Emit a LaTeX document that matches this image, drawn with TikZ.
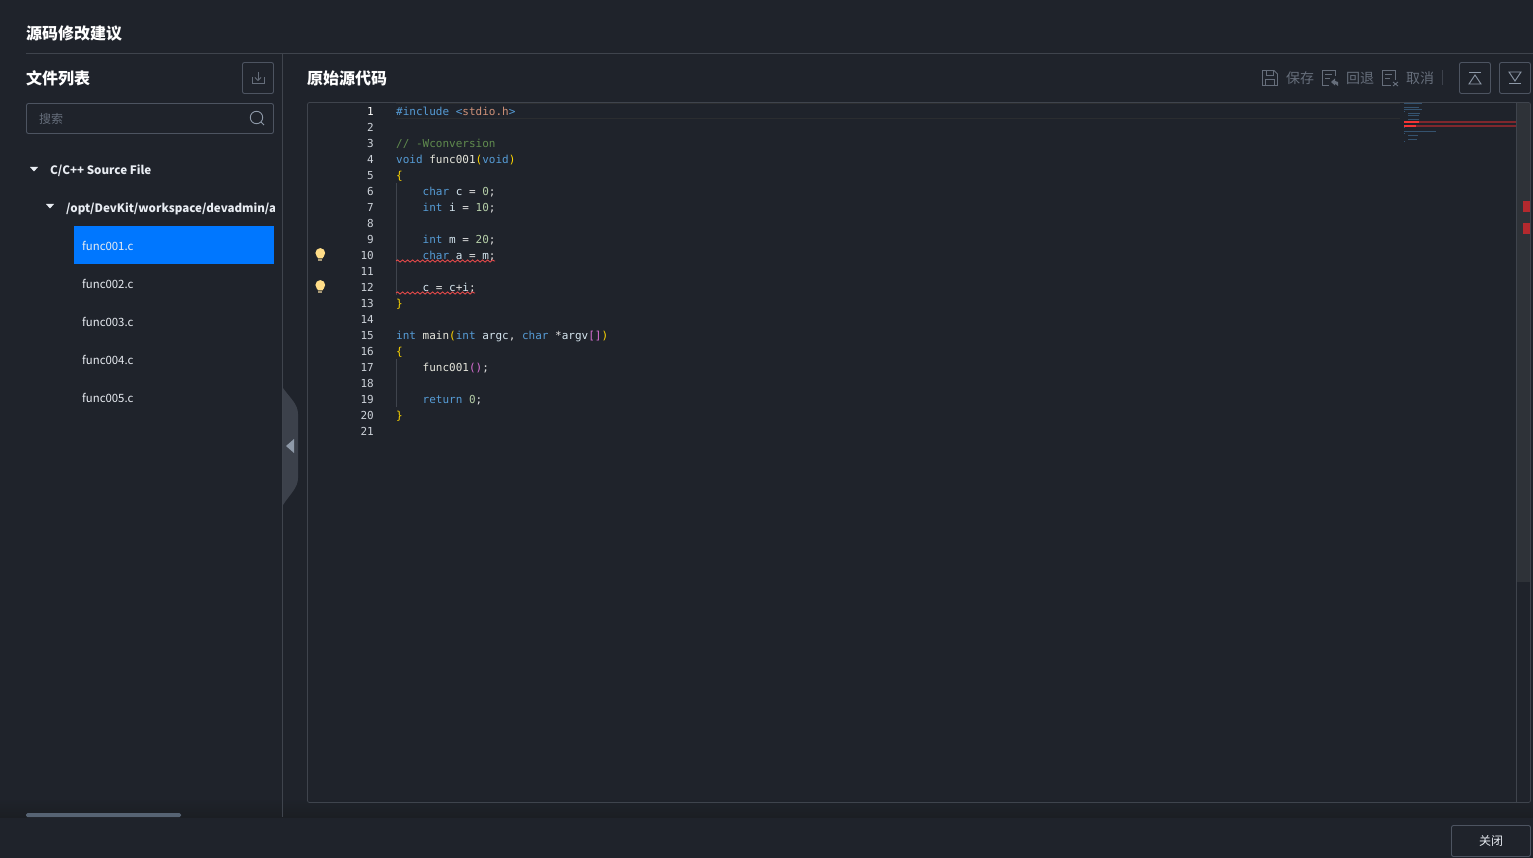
\documentclass[tikz,border=0pt]{standalone}
\usepackage{xcolor}
\usepackage{fontspec}
\usepackage{tikz}
\usetikzlibrary{decorations.pathmorphing}
\setmainfont{Noto Sans CJK SC}
\setmonofont{DejaVu Sans Mono}
\definecolor{pagebg}{HTML}{1F232B}
\definecolor{shadowbg}{HTML}{1B1E23}
\definecolor{rule}{HTML}{3F444D}
\definecolor{boxline}{HTML}{4D5461}
\definecolor{primary}{HTML}{0077FF}
\definecolor{maintext}{HTML}{E8ECF2}
\definecolor{dimtext}{HTML}{666E7B}
\definecolor{handle}{HTML}{3C414B}
\definecolor{handlemark}{HTML}{8E99A8}
\definecolor{thumb}{HTML}{566373}
\definecolor{scrollbg}{HTML}{2E3238}
\definecolor{curline}{HTML}{2B2D30}
\definecolor{kwblue}{HTML}{569CD6}
\definecolor{cmtgreen}{HTML}{608B4E}
\definecolor{numgreen}{HTML}{B5CEA8}
\definecolor{strorange}{HTML}{CE9178}
\definecolor{brackety}{HTML}{FFD700}
\definecolor{bracketm}{HTML}{DA70D6}
\definecolor{plaincode}{HTML}{E0E0E0}
\definecolor{varblue}{HTML}{D6E6F0}
\definecolor{fnyellow}{HTML}{E6E6DC}
\definecolor{linenum}{HTML}{CDD2D9}
\definecolor{errred}{HTML}{F14C4C}
\definecolor{markred}{HTML}{B3292E}
\definecolor{bulbcol}{HTML}{FFDD88}
\definecolor{bulbbase}{HTML}{A89A78}
\newcommand{\kw}[1]{\textcolor{kwblue}{#1}}
\newcommand{\nm}[1]{\textcolor{numgreen}{#1}}
\newcommand{\vr}[1]{\textcolor{varblue}{#1}}
\newcommand{\fn}[1]{\textcolor{fnyellow}{#1}}
\newcommand{\by}[1]{\textcolor{brackety}{#1}}
\newcommand{\bm}[1]{\textcolor{bracketm}{#1}}
\newcommand{\ind}{\hphantom{0000}}
\newcommand{\uifont}[1]{\fontsize{#1}{#1}\selectfont}
\tikzset{
  rulesep/.style={draw=rule, line width=0.8pt},
  uibox/.style={draw=boxline, rounded corners=2pt, line width=0.9pt},
  title/.style={text=white, font=\uifont{16}\bfseries, anchor=west, inner sep=0pt},
  filename/.style={text=maintext, font=\uifont{11.4}, anchor=west, inner sep=0pt},
  treehead/.style={text=maintext, font=\uifont{11.6}\bfseries, anchor=west, inner sep=0pt},
  toolicon/.style={draw=dimtext, line width=0.9pt},
  tooltext/.style={text=dimtext, font=\uifont{14}, anchor=west, inner sep=0pt},
  codetext/.style={text=plaincode, font=\ttfamily\uifont{11}, anchor=base west, inner sep=0pt},
  numtext/.style={text=linenum, font=\ttfamily\uifont{11}, anchor=base east, inner sep=0pt},
  wavy/.style={draw=errred, line width=0.8pt, decorate, decoration={snake, amplitude=1.1pt, segment length=5pt}},
  bulb/.pic={
    \fill[bulbcol] (-3.6,3) -- (-2.2,5.5) -- (2.2,5.5) -- (3.6,3) -- cycle;
    \fill[bulbcol] (0,0) circle (4.9);
    \fill[bulbbase] (-2,6) rectangle (2,8);
  }
}
\begin{document}
\begin{tikzpicture}[x=1pt, y=-1pt]
  \useasboundingbox (0,0) rectangle (1533,858);
  \fill[pagebg] (0,0) rectangle (1533,858);
  % sombra inferior
  \shade[top color=pagebg, bottom color=shadowbg] (0,798) rectangle (1533,817);
  % titulo y separadores
  \node[title] (mainTitle) at (26,34) {源码修改建议};
  \draw[rulesep] (26,53.5) -- (1533,53.5);
  \draw[rulesep] (282.5,54) -- (282.5,817);
  % panel de archivos
  \node[title] (listTitle) at (26,78.5) {文件列表};
  \draw[uibox] (242.5,62.5) rectangle (273.5,93.5);
  \draw[toolicon] (252,77) -- (252,83.5) -- (264,83.5) -- (264,77);
  \draw[toolicon] (258,72) -- (258,80);
  \draw[toolicon] (255,77.5) -- (258,80.5) -- (261,77.5);
  \draw[uibox] (26.5,103.5) rectangle (273.5,133.5);
  \node[text=dimtext, font=\uifont{12}, anchor=west, inner sep=0pt] (searchText) at (39,119) {搜索};
  \draw[draw=handlemark, line width=0.9pt] (256.5,117.5) circle (6.2);
  \draw[draw=handlemark, line width=0.9pt] (261,122) -- (264,125);
  % arbol
  \fill[maintext] (30,167) -- (38,167) -- (34,171.5) -- cycle;
  \node[treehead] (srcGroup) at (50,170.5) {C/C++ Source File};
  \fill[maintext] (46,204) -- (54,204) -- (50,208.5) -- cycle;
  \begin{scope}
    \clip (60,195) rectangle (274,220);
    \node[treehead] (pathGroup) at (66,208.5) {/opt/DevKit/workspace/devadmin/at};
  \end{scope}
  \fill[primary] (74,226) rectangle (274,264);
  \foreach \idx/\ypos in {1/246, 2/284, 3/322, 4/360, 5/398}
    \node[filename] (file\idx) at (82,\ypos) {func00\idx.c};
  \fill[thumb, rounded corners=1.5pt] (26,813) rectangle (181,817);
  % asa para plegar
  \fill[handle] (283,388) .. controls (290,398) and (298,404) .. (298,414) -- (298,478)
    .. controls (298,488) and (290,494) .. (283,505) -- cycle;
  \fill[handlemark] (294,439) -- (294,453) -- (286,446) -- cycle;
  % barra de herramientas
  \node[title] (codeTitle) at (307,78.5) {原始源代码};
  \draw[toolicon] (1262.5,70.5) -- (1274,70.5) -- (1277.5,74) -- (1277.5,85.5) -- (1262.5,85.5) -- cycle;
  \draw[toolicon] (1266,70.5) -- (1266,75) -- (1273,75) -- (1273,70.5) (1265.5,85.5) -- (1265.5,79.5) -- (1274.5,79.5) -- (1274.5,85.5);
  \node[tooltext] (saveText) at (1286,78.5) {保存};
  \draw[toolicon] (1335,76) -- (1335,70.5) -- (1322.5,70.5) -- (1322.5,85.5) -- (1329,85.5);
  \draw[toolicon] (1325,74.5) -- (1332,74.5) (1325,78) -- (1330,78);
  \fill[dimtext] (1331,82) -- (1335,78.5) -- (1335,81) -- (1338,82) -- (1338,86) -- (1335,83.5) -- (1335,85.5) -- cycle;
  \node[tooltext] (backText) at (1346,78.5) {回退};
  \draw[toolicon] (1395,80) -- (1395,70.5) -- (1382.5,70.5) -- (1382.5,85.5) -- (1391,85.5);
  \draw[toolicon] (1385,74.5) -- (1392,74.5) (1385,78) -- (1390,78);
  \draw[toolicon] (1393,82) -- (1398,86) (1398,82) -- (1393,86);
  \node[tooltext] (cancelText) at (1406,78.5) {取消};
  \draw[draw=handle] (1442.5,70) -- (1442.5,85);
  \draw[uibox] (1459.5,62.5) rectangle (1490.5,93.5);
  \draw[draw=handlemark, line width=0.9pt] (1469,72.5) -- (1481,72.5);
  \draw[draw=handlemark, line width=0.9pt] (1469,84) -- (1481,84) -- (1475,75) -- cycle;
  \draw[uibox] (1499.5,62.5) rectangle (1530.5,93.5);
  \draw[draw=handlemark, line width=0.9pt] (1509,83.5) -- (1521,83.5);
  \draw[draw=handlemark, line width=0.9pt] (1509,72) -- (1521,72) -- (1515,81) -- cycle;
  % editor
  \draw[curline] (396,118.5) -- (1400,118.5);
  \draw[curline] (396,103.5) -- (1400,103.5);
  \fill[scrollbg] (1516,103) rectangle (1530,582);
  \draw[rulesep, rounded corners=2pt] (307.5,102.5) rectangle (1530.5,802.5);
  \draw[rulesep] (1516.5,103) -- (1516.5,802);
  \fill[markred] (1523,201) rectangle (1530,212);
  \fill[markred] (1523,223) rectangle (1530,234);
  % guias de sangria
  \draw[rule, line width=0.6pt] (396.5,183) -- (396.5,295);
  \draw[rule, line width=0.6pt] (396.5,359) -- (396.5,407);
  % numeros de linea
  \node[numtext, text=white] (num1) at (374,115.5) {1};
  \foreach \n in {2,...,21}
    \node[numtext] (num\n) at (374,{99.5+16*\n}) {\n};
  % codigo
  \foreach \n/\code in {
    1/{\kw{\#include <}\textcolor{strorange}{stdio.h}\kw{>}},
    3/{\textcolor{cmtgreen}{// -Wconversion}},
    4/{\kw{void} \fn{func001}\by{(}\kw{void}\by{)}},
    5/{\by{\{}},
    6/{\ind\kw{char} \vr{c} = \nm{0};},
    7/{\ind\kw{int} \vr{i} = \nm{10};},
    9/{\ind\kw{int} \vr{m} = \nm{20};},
    10/{\ind\kw{char} \vr{a} = \vr{m};},
    12/{\ind\vr{c} = \vr{c}+\vr{i};},
    13/{\by{\}}},
    15/{\kw{int} \fn{main}\by{(}\kw{int} \vr{argc}, \kw{char} *\vr{argv}\bm{[]}\by{)}},
    16/{\by{\{}},
    17/{\ind\fn{func001}\bm{()};},
    19/{\ind\kw{return} \nm{0};},
    20/{\by{\}}}}
    \node[codetext] (line\n) at (396,{99.5+16*\n}) {\code};
  % subrayado de errores
  \draw[wavy] (396,261) -- (495,261);
  \draw[wavy] (396,293) -- (475,293);
  \pic at (320.3,253) {bulb};
  \pic at (320.3,285) {bulb};
  % minimapa
  \foreach \row/\start/\len in {1/0/18, 3/0/15, 4/0/18, 5/0/1, 6/4/12, 7/4/11, 9/4/11, 10/4/11, 12/4/8, 13/0/1, 15/0/32, 16/0/1, 17/4/10, 19/4/9, 20/0/1}
    \fill[kwblue!40!pagebg] ({1404+\start},{101+2*\row}) rectangle ++(\len,1);
  \fill[markred!65!pagebg] (1404,121) rectangle (1516,123);
  \fill[markred!65!pagebg] (1404,125) rectangle (1516,127);
  \fill[errred!70!red] (1404,121) rectangle (1419,123);
  \fill[errred!70!red] (1404,125) rectangle (1416,127);
  % pie
  \node[uibox, minimum width=79pt, minimum height=31pt, inner sep=0pt, text=maintext, font=\uifont{12}] (closeBtn) at (1491,841) {\raisebox{-1.5pt}{关闭}};
\end{tikzpicture}
\end{document}
